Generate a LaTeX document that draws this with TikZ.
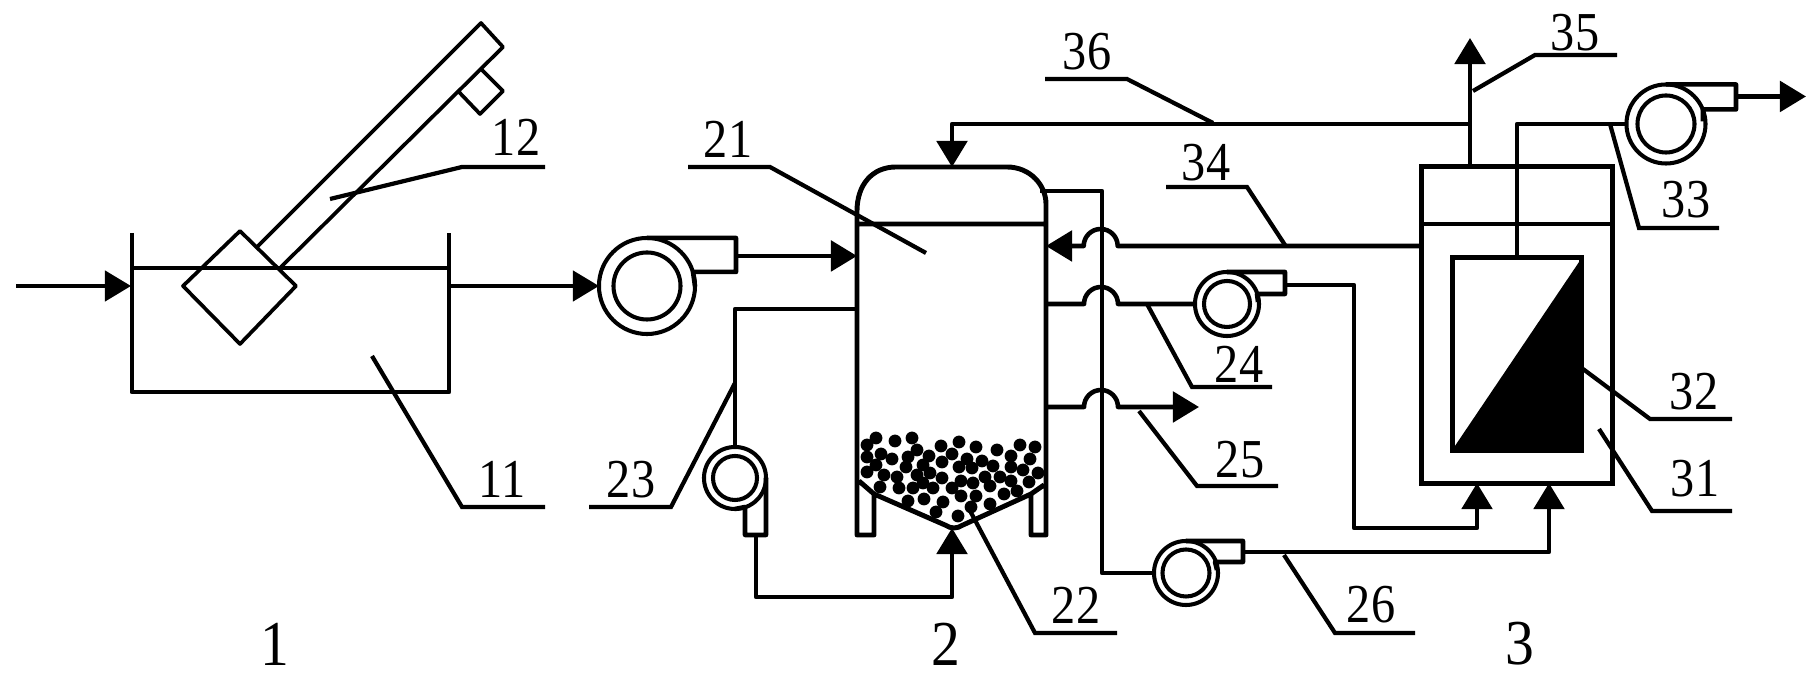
\documentclass[tikz,border=0pt]{standalone}
\usepackage{fontspec}
\setmainfont{Liberation Serif}
\usetikzlibrary{arrows.meta,calc}

\tikzset{
	pipe/.style={line width=1.3pt,line join=round},
	thinpipe/.style={line width=1.05pt},
	flow/.style={pipe,-{Triangle[length=7.4pt,width=8.6pt]}},
	thinflow/.style={thinpipe,-{Triangle[length=7.4pt,width=8.6pt]}},
	wall/.style={line width=1.4pt,line join=round},
	chute/.style={line width=1.05pt,line join=round},
	leader/.style={line width=1.2pt},
	pumpcase/.style={circle,draw,line width=1.15pt,inner sep=0pt,outer sep=0pt,minimum size=#1},
	vesselbox/.style={rectangle,draw,line width=1.4pt,inner sep=0pt,outer sep=0pt},
	refnum/.style={inner sep=0pt,font=\fontsize{15.6}{15.6}\selectfont},
	unitnum/.style={inner sep=0pt,font=\fontsize{18.2}{18.2}\selectfont},
}

\begin{document}
\begin{tikzpicture}[x=0.01cm,y=-0.01cm]
	\useasboundingbox (0,0) rectangle (1820,680);

	\coordinate (feedIn) at (16,286);
	\coordinate (tankIn) at (131,286);
	\coordinate (tankOut) at (449,286);
	\coordinate (vesFeed) at (857,256);
	\coordinate (vesCirc) at (857,309);
	\coordinate (vesTop) at (952,167);
	\coordinate (vesBot) at (952,528);
	\coordinate (vesVent) at (1040,191);
	\coordinate (vesBack) at (1046,246);
	\coordinate (vesDraw) at (1046,304);
	\coordinate (vesDrain) at (1046,407);
	\coordinate (drainEnd) at (1199,407);
	\coordinate (stackTop) at (1470,38);
	\coordinate (airOut) at (1806,99);

	% tank and feeder
	\draw[wall]
	(132,233) -- (132,392) -- (449,392) -- (449,233)
	(132,268) -- (449,268)
	;
	\draw[chute]
	(240,231) -- (296,286) -- (240,344) -- (183,286) -- cycle
	(258,246) -- (481,23) -- (503,47) -- (281,267)
	(481,69) -- (503,91) -- (480,114) -- (458,91)
	;

	% digester
	\draw[wall]
	(874,494) -- (874,535) -- (857,535) -- (857,211)
	.. controls (857,185) and (872,167) .. (896,167)
	-- (1007,167)
	.. controls (1030,167) and (1046,185) .. (1046,204)
	-- (1046,535) -- (1031,535) -- (1031,494)
	(857,224) -- (1046,224)
	(859,481) -- (874,494) -- (945,525)
	.. controls (951,529) and (957,529) .. (963,525)
	-- (1031,494) -- (1044,485)
	;
	\foreach \bx/\by in {
		876/438,895/441,912/438,867/445,917/450,941/446,959/442,976/447,997/450,1020/445,1035/447,
		867/457,881/454,892/459,908/457,929/456,942/462,952/454,967/459,982/461,993/466,1011/456,1030/459,
		876/465,906/467,923/465,959/467,972/468,1011/467,1023/470,
		867/472,884/475,897/477,917/475,930/473,942/478,961/481,985/477,1000/477,1038/473,
		880/487,899/488,913/488,923/483,933/488,952/488,973/483,990/486,1011/481,1029/482,
		961/496,976/496,1004/494,1017/491,
		908/501,924/499,943/502,990/504,971/507,936/512,958/516}
		\fill (\bx,\by) circle[radius=6.4];

	% separator
	\node[vesselbox,minimum width=1.905cm,minimum height=3.16cm] (sepBox) at (1517,325) {};
	\node[vesselbox,minimum width=1.295cm,minimum height=1.92cm] (memBox) at (1517,354) {};
	\fill (memBox.north east) -- (memBox.south east) -- (memBox.south west) -- cycle;
	\draw[wall] (sepBox.west |- 0,224) -- (sepBox.east |- 0,224);

	% pumps
	\node[pumpcase=0.96cm] (pumpFeed) at (647,286) {};
	\node[pumpcase=0.67cm] (pumpFeedIn) at (647,286) {};
	\node[pumpcase=0.62cm] (pumpCirc) at (735,478) {};
	\node[pumpcase=0.44cm] (pumpCircIn) at (735,478) {};
	\node[pumpcase=0.64cm] (pumpDraw) at (1227,304) {};
	\node[pumpcase=0.46cm] (pumpDrawIn) at (1227,304) {};
	\node[pumpcase=0.64cm] (pumpAir) at (1186,573) {};
	\node[pumpcase=0.47cm] (pumpAirIn) at (1186,573) {};
	\node[pumpcase=0.79cm] (pumpOut) at (1666,124) {};
	\node[pumpcase=0.57cm] (pumpOutIn) at (1666,124) {};

	\draw[pipe]
	(pumpFeed.north) -- ++(89,0) -- ++(0,18) coordinate (feedOut) -- ++(0,16) -- ++(-43,0) -- ++(2,14)
	(pumpCirc.east) -- ++(0,57) -- ++(-10,0) coordinate (circOut) -- ++(-11,0) -- ++(0,-28) -- (pumpCirc.south)
	(pumpDraw.north) -- ++(58,0) -- ++(0,13) coordinate (drawOut) -- ++(0,9) -- ++(-28,0) -- ++(1,8)
	(pumpAir.north) -- ++(57,0) -- ++(0,11) coordinate (airPump) -- ++(0,10) -- ++(-28,0) -- ++(2,8)
	(pumpOut.north) -- ++(70,0) -- ++(0,12) coordinate (outPump) -- ++(0,13) -- ++(-33,0) -- ++(0,12)
	;

	% pipes
	\draw[thinflow] (feedIn) -- (tankIn);
	\draw[thinflow] (tankOut) -- (pumpFeed.west);
	\draw[flow] (feedOut) -- (feedOut -| vesFeed);
	\draw[pipe] (vesCirc) -- ++(-122,0) -- (pumpCirc.north);
	\draw[flow] (circOut) -- ++(0,62) -| (vesBot);
	\draw[pipe] (vesVent) -- ++(62,0) |- (pumpAir.west);
	\draw[flow] (sepBox.west |- vesBack) -- ++(-304,0) arc[start angle=0,end angle=-180,radius=17] -- (vesBack);
	\draw[pipe] (vesDraw) -- ++(38,0) arc[start angle=180,end angle=360,radius=17] -- (pumpDraw.west);
	\draw[flow] (vesDrain) -- ++(38,0) arc[start angle=180,end angle=360,radius=17] -- (drainEnd);
	\draw[flow] (drawOut) -| ++(69,243) -| ($(sepBox.south)+(-40,0)$);
	\draw[flow] (airPump) -| ($(sepBox.south)+(32,0)$);
	\draw[flow] (sepBox.north -| stackTop) -- (stackTop);
	\draw[flow] (stackTop |- 0,124) -| (vesTop);
	\draw[pipe] (memBox.north) |- (pumpOut.west);
	\draw[flow] (outPump) -- (outPump -| airOut);

	% reference numbers
	\foreach \refname/\ax/\ay/\bx/\by/\ex/\tx/\ty in {
		12/330/199/462/167/545/516/137,
		11/372/356/462/507/545/502/479,
		21/926/253/770/167/688/728/139,
		23/735/383/671/507/589/631/480,
		22/968/507/1035/633/1117/1076/605,
		24/1147/304/1192/387/1272/1239/364,
		25/1139/411/1197/486/1278/1240/460,
		26/1284/555/1335/633/1415/1371/605,
		31/1599/429/1652/511/1732/1695/479,
		32/1583/369/1650/419/1732/1694/392,
		33/1610/124/1639/228/1719/1686/200,
		34/1285/245/1247/187/1166/1206/163,
		35/1473/91/1535/55/1617/1575/33,
		36/1213/123/1127/79/1045/1087/52}
	{
		\coordinate (lead\refname) at (\ax,\ay);
		\coordinate (bend\refname) at (\bx,\by);
		\coordinate (end\refname) at (\ex,\by);
		\draw[leader] (lead\refname) -- (bend\refname) -- (end\refname);
		\node[refnum] (num\refname) at (\tx,\ty) {\scalebox{.88}[1]{\refname}};
	}

	\node[unitnum] (unitA) at (275,644) {\scalebox{.9}[1]{1}};
	\node[unitnum] (unitB) at (946,644) {\scalebox{.9}[1]{2}};
	\node[unitnum] (unitC) at (1520,644) {\scalebox{.9}[1]{3}};
\end{tikzpicture}
\end{document}
